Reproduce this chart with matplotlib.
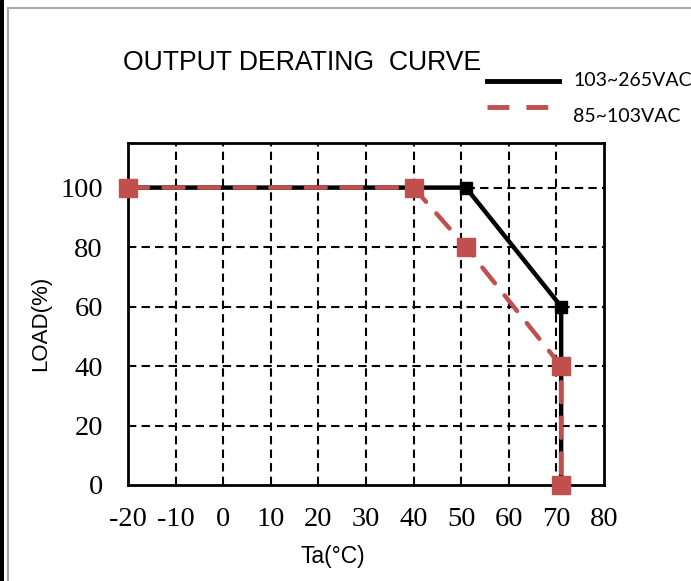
import matplotlib
matplotlib.use("Agg")
import matplotlib.pyplot as plt
from matplotlib.lines import Line2D
from matplotlib.patches import Rectangle

plt.rcParams["axes.unicode_minus"] = False

# data
ta_high = [-20, 51, 71, 71]      # 103~265VAC
load_high = [100, 100, 60, 0]
ta_low = [-20, 40, 51, 71, 71]   # 85~103VAC
load_low = [100, 100, 80, 40, 0]
x_ticks = [-20, -10, 0, 10, 20, 30, 40, 50, 60, 70, 80]
y_ticks = [0, 20, 40, 60, 80, 100]

red = "#C0504D"

fig = plt.figure(figsize=(6.91, 5.81), dpi=100)
W, H = 691, 581
ax = fig.add_axes([128 / W, 1 - 485 / H, (604 - 128) / W, (485 - 143) / H])

# grid, drawn by hand so the outer edges stay solid spines
for x in x_ticks[1:-1]:
    ax.axvline(x, color="black", lw=1.5, ls=(0, (4, 2.5)), zorder=1)
for y in y_ticks[1:]:
    ax.axhline(y, color="black", lw=1.5, ls=(0, (4, 2.5)), zorder=1)

ax.plot(ta_high, load_high, color="black", lw=3.2, marker="s", ms=8,
        solid_joinstyle="miter", zorder=3)
ax.plot(ta_low, load_low, color=red, lw=3.2, ls=(0, (4.5, 3.5)),
        marker="s", ms=13, dash_capstyle="round", zorder=4, clip_on=False)

ax.set_xlim(-20, 80)
ax.set_ylim(0, 115)
ax.set_xticks(x_ticks)
ax.set_yticks(y_ticks)
ax.tick_params(axis="y", length=0, pad=18, labelsize=20.5)
ax.tick_params(axis="x", length=0, pad=16, labelsize=20.5)
for lab in ax.get_xticklabels() + ax.get_yticklabels():
    lab.set_fontfamily("Liberation Serif")
for s in ax.spines.values():
    s.set_linewidth(2)
    s.set_color("black")

fig.text(333 / W, 1 - 556 / H, "Ta(°C)", ha="center", va="center",
         fontsize=16.5, family="Liberation Sans")
fig.text(41 / W, 1 - 323 / H, "LOAD(%)", ha="center", va="center",
         rotation=90, fontsize=16, family="Liberation Sans")

fig.text(123 / W, 1 - 63 / H, "OUTPUT DERATING  CURVE", ha="left",
         va="center", fontsize=19.2, family="Liberation Sans")

# legend
fig.add_artist(Line2D([487 / W, 559 / W], [1 - 81 / H, 1 - 81 / H],
                      color="black", lw=3.5))
fig.add_artist(Line2D([487 / W, 561 / W], [1 - 107 / H, 1 - 107 / H],
                      color=red, lw=3.5, ls=(0, (4.5, 3.5))))
fig.text(573 / W, 1 - 81 / H, "103~265VAC", ha="left", va="center",
         fontsize=14, family="Lato")
fig.text(573 / W, 1 - 117 / H, "85~103VAC", ha="left", va="center",
         fontsize=14, family="Lato")

# page frame
fig.add_artist(Rectangle((0, 0), 4 / W, 1, transform=fig.transFigure,
                         color="black", lw=0))
fig.add_artist(Line2D([8 / W, 8 / W], [0, 1 - 8 / H], color="#aaaaaa", lw=1.5))
fig.add_artist(Line2D([8 / W, 1], [1 - 8 / H, 1 - 8 / H], color="#aaaaaa", lw=1.5))

fig.savefig("out.png", dpi=100)
